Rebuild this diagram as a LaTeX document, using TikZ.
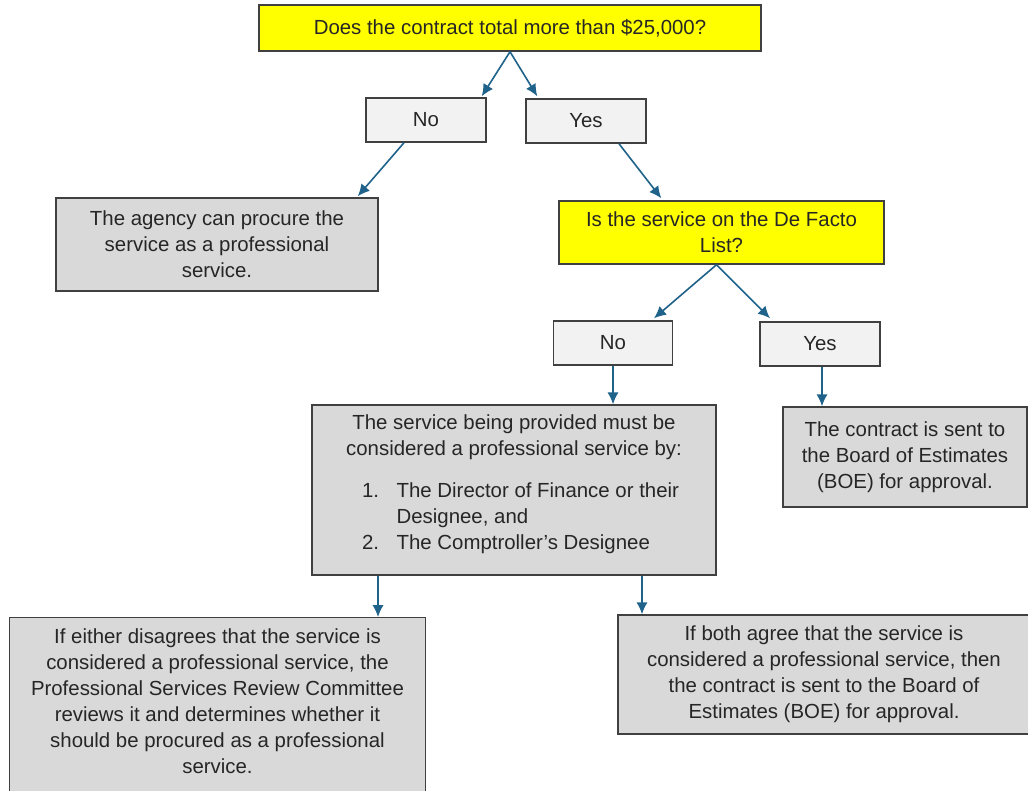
\documentclass[tikz,border=0pt]{standalone}
\usepackage{fontspec}
\setmainfont{Liberation Sans}
\usetikzlibrary{calc,arrows.meta}
\definecolor{flowblue}{RGB}{31,99,139}
\definecolor{boxgrey}{RGB}{217,217,217}
\definecolor{choicegrey}{RGB}{242,242,242}
\definecolor{edgegrey}{RGB}{64,64,64}
\definecolor{qyellow}{RGB}{255,255,0}
\tikzset{
  dims/.style 2 args={minimum width=#1*0.75pt, minimum height=#2*0.75pt},
  basebox/.style={draw=edgegrey, line width=1.1pt, inner sep=0pt, align=center,
    text=black!85, font=\fontsize{15.3}{19.5}\selectfont},
  question/.style={basebox, fill=qyellow},
  choice/.style={basebox, fill=choicegrey},
  outcome/.style={basebox, fill=boxgrey},
  flow/.style={->, color=flowblue, line width=1.2pt},
}
\begin{document}
\begin{tikzpicture}[x=0.75pt,y=-0.75pt,>={Latex[length=9pt,width=8.5pt]}]
    \clip (0,0) rectangle (1028,791);
    \fill[white] (0,0) rectangle (1028,791);

    % first question
    \node[question, dims={502}{46}] (q1) at (510,28) {Does the contract total more than \$25,000?};
    \node[choice, dims={120}{44}] (no1) at (426,120) {No};
    \node[choice, dims={120}{44}] (yes1) at (586,121) {Yes};
    \node[outcome, dims={322}{93}] (agency) at (217,244.5)
        {The agency can procure the\\service as a professional\\service.};

    % second question
    \node[question, dims={325}{63}] (q2) at (721.5,232.5) {Is the service on the De Facto\\List?};
    \node[choice, dims={119}{44}] (no2) at (613,343) {No};
    \node[choice, dims={120}{44}] (yes2) at (820,344) {Yes};
    \node[outcome, dims={244}{100}] (boe) at (905,457)
        {The contract is sent to\\the Board of Estimates\\(BOE) for approval.};

    % review by finance and comptroller
    \node[outcome, dims={404}{170}] (must) at (514,490)
        {The service being provided must be\\considered a professional service by:\\[12pt]
         \makebox[228pt][l]{\makebox[26pt][l]{1.}The Director of Finance or their}\\
         \makebox[228pt][l]{\hspace{26pt}Designee, and}\\
         \makebox[228pt][l]{\makebox[26pt][l]{2.}The Comptroller’s Designee}\\[-8pt]\mbox{}};

    \node[outcome, dims={416}{200}, anchor=north] (either) at (217.5,617) {};
    \node[basebox, draw=none] (eithertext) at (217.5,701.5)
        {If either disagrees that the service is\\considered a professional service, the\\
         Professional Services Review Committee\\reviews it and determines whether it\\
         should be procured as a professional\\service.};
    \node[outcome, dims={412}{119}] (both) at (824,674.5)
        {If both agree that the service is\\considered a professional service, then\\
         the contract is sent to the Board of\\Estimates (BOE) for approval.};

    % connectors
    \draw[flow] (q1.south) -- ($(no1.north east)+(-5,-1)$);
    \draw[flow] (q1.south) -- ($(yes1.north west)+(12,-2)$);
    \draw[flow] ($(no1.south)+(-22,0)$) -- ($(agency.north east)+(-21,-1)$);
    \draw[flow] ($(yes1.south)+(33,0)$) -- ($(q2.north west)+(103,-2)$);
    \draw[flow] ($(q2.south)+(-5,0)$) -- ($(no2.north)+(41,-2)$);
    \draw[flow] ($(q2.south)+(-5,0)$) -- ($(yes2.north)+(-50,-3)$);
    \draw[flow] (no2.south) -- (no2.south |- must.north);
    \draw[flow] ($(yes2.south)+(2,0)$) -- ($(yes2.south |- boe.north)+(2,0)$);
    \coordinate (mustleft) at ($(must.south)+(-136,0)$);
    \coordinate (mustright) at ($(must.south)+(128,0)$);
    \draw[flow] (mustleft) -- (mustleft |- either.north);
    \draw[flow] (mustright) -- (mustright |- both.north);
\end{tikzpicture}
\end{document}
